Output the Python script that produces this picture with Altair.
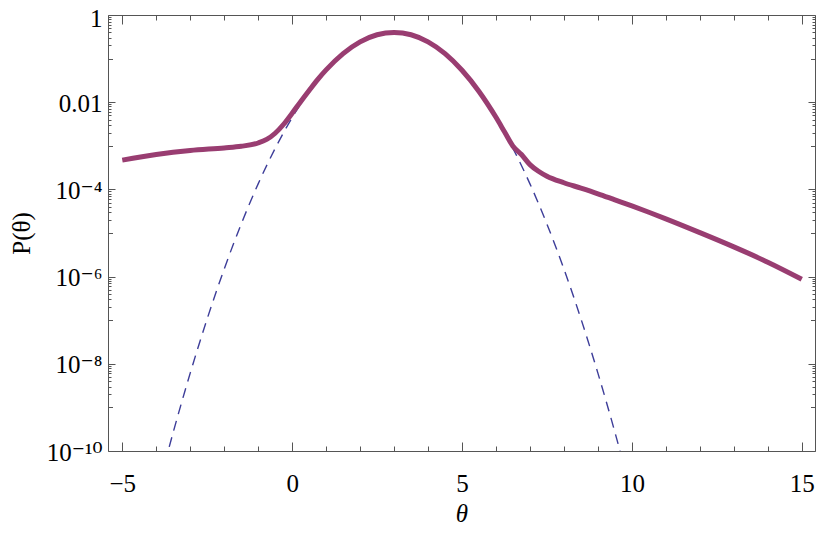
import math
import altair as alt
import pandas as pd

# ---- data ----
# solid (full) curve: theta and P(theta)
solid_theta = [-5.0, -4.0, -3.0, -2.0, -1.5, -1.0, -0.75, -0.5, -0.25, 0.0, 0.25, 0.5,
               0.75, 1.0, 1.5, 2.0, 2.5, 3.0, 3.5, 4.0, 4.5, 5.0, 5.5, 6.0, 6.25, 6.5,
               6.75, 7.0, 7.25, 7.5, 8.0, 8.5, 9.0, 9.5, 10.0, 10.5, 11.0, 12.0, 13.0,
               14.0, 15.0]
solid_p = [4.7e-4, 6.3e-4, 7.8e-4, 8.95e-4, 9.75e-4, 1.16e-3, 1.4e-3, 1.94e-3, 3.12e-3,
           5.58e-3, 1.03e-2, 1.86e-2, 3.3e-2, 5.5e-2, 0.130, 0.242, 0.352, 0.399, 0.352,
           0.242, 0.130, 5.4e-2, 1.76e-2, 4.5e-3, 2.1e-3, 9.8e-4, 6.3e-4, 3.7e-4,
           2.6e-4, 2.0e-4, 1.42e-4, 1.07e-4, 7.94e-5, 5.75e-5, 4.17e-5, 2.99e-5, 2.11e-5,
           1.02e-5, 4.8e-6, 2.14e-6, 8.7e-7]

# dashed (bulk only) curve
dash_theta = [-4.0, -3.5, -3.0, -2.5, -2.0, -1.5, -1.0, -0.5, 0.0, 0.5, 1.0, 1.5, 2.0,
              2.5, 3.0, 3.5, 4.0, 4.5, 5.0, 5.5, 6.0, 6.5, 7.0, 7.5, 8.0, 8.5, 9.0, 9.5,
              10.0]
dash_p = [9.1e-12, 2.7e-10, 6.1e-9, 1.08e-7, 1.49e-6, 1.6e-5, 1.34e-4, 8.7e-4, 4.43e-3,
          1.75e-2, 5.4e-2, 0.1295, 0.242, 0.352, 0.399, 0.352, 0.242, 0.1295, 5.4e-2,
          1.75e-2, 4.43e-3, 8.7e-4, 1.34e-4, 1.6e-5, 1.49e-6, 1.08e-7, 6.1e-9, 2.7e-10,
          9.1e-12]

# ticks
x_major = [-5, 0, 5, 10, 15]
x_minor = [-5, -4, -3, -2, -1, 0, 1, 2, 3, 4, 5, 6, 7, 8, 9, 10, 11, 12, 13, 14, 15]
y_major = [1, 1e-2, 1e-4, 1e-6, 1e-8, 1e-10]
y_major_labels = ["1", "0.01", "10⁻⁴", "10⁻⁶", "10⁻⁸", "10⁻¹⁰"]
y_decade = [1e-1, 1e-3, 1e-5, 1e-7, 1e-9]
y_sub_decades = [-1, -3, -5, -7, -9]
y_sub_mult = [2, 3, 4, 5, 6, 7, 8, 9]

x_domain = [-5.42, 15.39]
y_domain = [1e-10, 1]

W, H = 707, 436
FONT = "Liberation Serif, DejaVu Serif, serif"
FRAME = "#555555"

solid_df = pd.DataFrame({"theta": solid_theta, "p": solid_p})
dash_df = pd.DataFrame({"theta": dash_theta, "p": dash_p})
y_sub = [m * 10.0 ** e for e in y_sub_decades for m in y_sub_mult]

label_expr = "".join(
    f"round(log(datum.value)/LN10) == {round(math.log10(v))} ? '{s}' : "
    for v, s in zip(y_major, y_major_labels)
) + "''"

xs = alt.Scale(domain=x_domain, nice=False, zero=False)
ys = alt.Scale(type="log", domain=y_domain, nice=False)


def tick_axis(orient, values, size, offset):
    return alt.Axis(orient=orient, values=values, tickSize=size, offset=offset,
                    labels=False, domain=False, title=None, grid=False,
                    tickColor=FRAME, tickWidth=1)


# layer with labels (dashed curve)
dashed = alt.Chart(dash_df).mark_line(
    color="#3d3d99", strokeWidth=1.4, strokeDash=[10, 7], clip=True, interpolate="monotone"
).encode(
    x=alt.X("theta:Q", scale=xs, axis=alt.Axis(
        orient="bottom", values=x_major, format="d", ticks=False, domain=False,
        grid=False, title="θ", labelPadding=20, titlePadding=5,
        titleFontStyle="italic", titleFontWeight="normal")),
    y=alt.Y("p:Q", scale=ys, axis=alt.Axis(
        orient="left", values=y_major[1:], labelExpr=label_expr, ticks=False,
        domain=False, grid=False, title="P(θ)", labelPadding=6, titlePadding=12,
        labelOffset=1, titleFontWeight="normal")),
)

solid = alt.Chart(solid_df).mark_line(
    color="#993d71", strokeWidth=5, clip=True, interpolate="monotone"
).encode(
    x=alt.X("theta:Q", scale=xs, axis=tick_axis("top", x_major, 9, -H)),
    y=alt.Y("p:Q", scale=ys, axis=tick_axis("right", y_major, 7, -W)),
)


def ghost(xaxis, yaxis):
    return alt.Chart(solid_df).mark_point(opacity=0).encode(
        x=alt.X("theta:Q", scale=xs, axis=xaxis),
        y=alt.Y("p:Q", scale=ys, axis=yaxis),
    )


top_label_axis = alt.Axis(
    orient="left", values=y_major[:1], labelExpr=label_expr, ticks=False, domain=False,
    grid=False, title=None, labelPadding=6, labelOffset=3,
)

layers = [
    dashed,
    solid,
    ghost(tick_axis("top", x_minor, 5, -H), tick_axis("right", y_decade, 4.5, -W)),
    ghost(tick_axis("bottom", x_major, 9, -H), tick_axis("right", y_sub, 3, -W)),
    ghost(tick_axis("bottom", x_minor, 5, -H), tick_axis("left", y_major, 7, -W)),
    ghost(None, tick_axis("left", y_decade, 4.5, -W)),
    ghost(None, tick_axis("left", y_sub, 3, -W)),
    ghost(None, top_label_axis),
]

chart = alt.layer(*layers).resolve_axis(
    x="independent", y="independent"
).properties(
    width=W, height=H,
    autosize=alt.AutoSizeParams(type="none"),
    padding={"left": 100, "top": 7, "right": 7, "bottom": 75},
    background="white",
).configure_view(
    stroke=FRAME, strokeWidth=1
).configure_axis(
    labelFont=FONT, titleFont=FONT, labelFontSize=25, titleFontSize=25,
    labelColor="black", titleColor="black", grid=False,
)

chart.save("out.html", embed_options={"renderer": "svg", "actions": False})
